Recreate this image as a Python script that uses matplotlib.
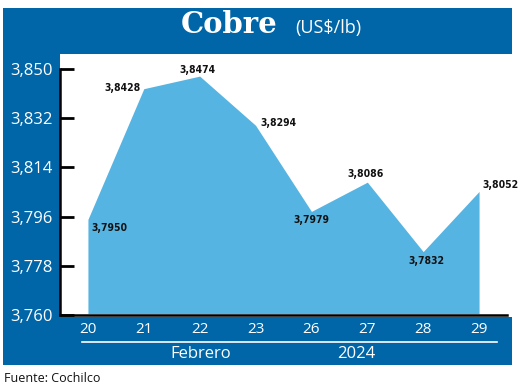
import matplotlib.pyplot as plt
from matplotlib.patches import Rectangle

days = ['20', '21', '22', '23', '26', '27', '28', '29']
prices = [3.7950, 3.8428, 3.8474, 3.8294, 3.7979, 3.8086, 3.7832, 3.8052]
labels = ['3,7950', '3,8428', '3,8474', '3,8294', '3,7979', '3,8086', '3,7832', '3,8052']
yticks = [3.760, 3.778, 3.796, 3.814, 3.832, 3.850]
ytick_labels = ['3,760', '3,778', '3,796', '3,814', '3,832', '3,850']

W, H = 520, 390
blue = '#0066a8'
fill_blue = '#55b4e2'

fig = plt.figure(figsize=(5.2, 3.9), dpi=100, facecolor='white')


def box(x0, y0, x1, y1):
    # pixel coords (top-left origin) -> figure fraction rect
    return (x0 / W, 1 - y1 / H), (x1 - x0) / W, (y1 - y0) / H


for r in [(3, 8, 512, 54), (3, 54, 60, 365), (60, 317, 512, 365)]:
    xy, w, h = box(*r)
    fig.patches.append(Rectangle(xy, w, h, transform=fig.transFigure,
                                 facecolor=blue, edgecolor='none', zorder=-5))

ax = fig.add_axes([60 / W, 75 / H, 447 / W, 246 / H])
ax.set_facecolor('none')

x = range(len(days))
ax.fill_between(x, 3.7605, prices, color=fill_blue, linewidth=0, clip_on=False)

ax.set_xlim(-0.5, 7.5)
ax.set_ylim(3.760, 3.850)
ax.set_yticks(yticks)
ax.set_yticklabels(ytick_labels, color='white', fontsize=12, family='Open Sans')
ax.set_xticks(list(x))
ax.set_xticklabels(days, color='white', fontsize=11, family='Open Sans')
ax.tick_params(axis='y', direction='in', length=10, width=2, pad=5)
ax.tick_params(axis='x', length=0, pad=5)
for s in ['top', 'right']:
    ax.spines[s].set_visible(False)
for s in ['left', 'bottom']:
    ax.spines[s].set_linewidth(1.8)

# data labels, offsets in pixels
offsets = [(3, -9, 'left'), (-3, 1, 'right'), (-2, 6, 'center'), (5, 2, 'left'),
           (0, -9, 'center'), (-2, 8, 'center'), (3, -9, 'center'), (3, 6, 'left')]
for i, (v, t) in enumerate(zip(prices, labels)):
    dx, dy, ha = offsets[i]
    ax.annotate(t, (i, v), xytext=(dx * 0.72, dy * 0.72), textcoords='offset points',
                ha=ha, va='center', fontsize=7.5, fontweight='bold',
                family='DejaVu Sans', fontstretch='condensed', color='#111111')

# title
fig.text(278 / W, 1 - 33 / H, 'Cobre', color='white', fontsize=21, fontweight='bold',
         family='DejaVu Serif', ha='right', va='baseline')
fig.text(295 / W, 1 - 33 / H, '(US$/lb)', color='white', fontsize=13,
         family='Open Sans', ha='left', va='baseline')

# lower axis caption
fig.add_artist(plt.Line2D([82 / W, 497 / W], [1 - 342 / H, 1 - 342 / H],
                          color='white', linewidth=1.2, transform=fig.transFigure))
fig.text(201 / W, 1 - 354 / H, 'Febrero', color='white', fontsize=12,
         family='Open Sans', ha='center', va='center')
fig.text(356 / W, 1 - 354 / H, '2024', color='white', fontsize=12,
         family='Open Sans', ha='center', va='center')

fig.text(4 / W, 1 - 379 / H, 'Fuente: Cochilco', color='#111111', fontsize=9,
         family='Open Sans', ha='left', va='center')

fig.savefig('out.png', dpi=100, facecolor='white')
